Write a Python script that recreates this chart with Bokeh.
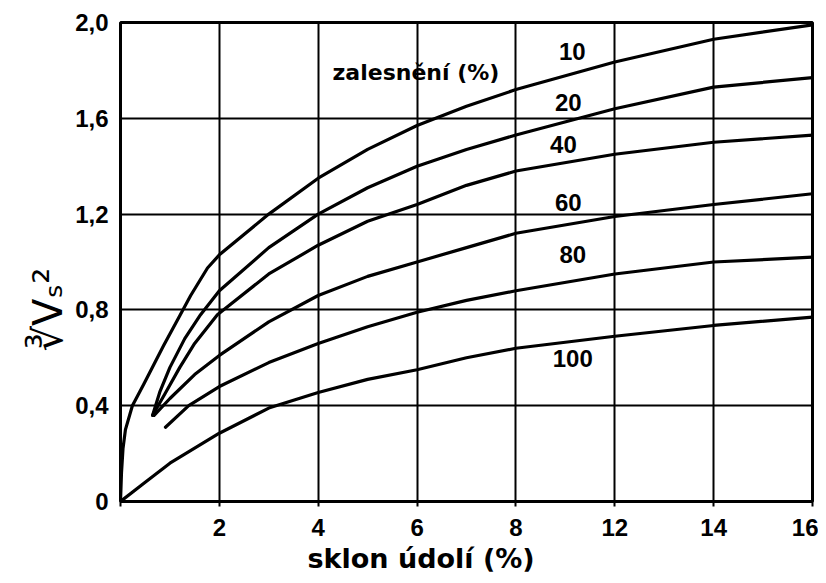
from bokeh.plotting import figure
from bokeh.models import Label, FixedTicker, Range1d, Title
from bokeh.core.properties import value
from bokeh.embed import file_html
from bokeh.resources import INLINE

# x axis: equally spaced gridlines labelled 0,2,4,6,8,12,14,16 (as printed)
x_tick_pos = [0, 2, 4, 6, 8, 10, 12, 14]
x_tick_labels = ["", "2", "4", "6", "8", "12", "14", "16"]
y_tick_pos = [0, 0.4, 0.8, 1.2, 1.6, 2.0]
y_tick_labels = ["0", "0,4", "0,8", "1,2", "1,6", "2,0"]

# curves (x in axis-position units), labelled by forest cover (%)
x_10 = [0, 0.02, 0.05, 0.1, 0.24, 0.47, 0.67, 0.87, 1.21, 1.42, 1.76, 2, 3, 4, 5, 6, 7, 8, 10, 12, 14]
y_10 = [0, 0.12, 0.22, 0.30, 0.40, 0.49, 0.57, 0.65, 0.78, 0.86, 0.975, 1.03, 1.20, 1.35, 1.47, 1.57, 1.65, 1.72, 1.835, 1.93, 1.99]
x_20 = [0.65, 0.8, 1.0, 1.3, 1.62, 2, 3, 4, 5, 6, 7, 8, 10, 12, 14]
y_20 = [0.36, 0.46, 0.56, 0.68, 0.78, 0.88, 1.06, 1.20, 1.31, 1.40, 1.47, 1.53, 1.64, 1.73, 1.77]
x_40 = [0.65, 0.9, 1.2, 1.5, 1.96, 3, 4, 5, 6, 7, 8, 10, 12, 14]
y_40 = [0.36, 0.45, 0.56, 0.66, 0.78, 0.95, 1.07, 1.17, 1.24, 1.32, 1.38, 1.45, 1.50, 1.53]
x_60 = [0.68, 1.0, 1.5, 2, 3, 4, 5, 6, 7, 8, 10, 12, 14]
y_60 = [0.36, 0.43, 0.53, 0.61, 0.75, 0.86, 0.94, 1.00, 1.06, 1.12, 1.19, 1.24, 1.285]
x_80 = [0.91, 1.38, 2, 3, 4, 5, 6, 7, 8, 10, 12, 14]
y_80 = [0.31, 0.40, 0.48, 0.58, 0.66, 0.73, 0.79, 0.84, 0.88, 0.95, 1.00, 1.02]
x_100 = [0, 0.5, 1, 2, 3, 4, 5, 6, 7, 8, 10, 12, 14]
y_100 = [0, 0.08, 0.16, 0.285, 0.39, 0.455, 0.51, 0.55, 0.60, 0.64, 0.69, 0.735, 0.77]

curve_names = ["10", "20", "40", "60", "80", "100"]
label_x = [9.14, 9.06, 8.96, 9.06, 9.15, 9.15]
label_y = [1.88, 1.665, 1.49, 1.25, 1.03, 0.595]

FONT = "Liberation Sans"

p = figure(width=818, height=575, output_backend="svg", toolbar_location=None,
           x_range=Range1d(0, 14), y_range=Range1d(0, 2.0),
           min_border_left=120, min_border_right=6, min_border_top=22, min_border_bottom=69)
p.background_fill_color = "white"
p.border_fill_color = "white"
p.outline_line_color = "black"
p.outline_line_width = 3

p.xaxis.ticker = FixedTicker(ticks=x_tick_pos)
p.yaxis.ticker = FixedTicker(ticks=y_tick_pos)
p.xaxis.major_label_overrides = {t: l for t, l in zip(x_tick_pos, x_tick_labels)}
p.yaxis.major_label_overrides = {t: l for t, l in zip(y_tick_pos, y_tick_labels)}
for ax in (p.xaxis, p.yaxis):
    ax.axis_line_color = None
    ax.minor_tick_line_color = None
    ax.major_tick_line_color = "black"
    ax.major_tick_line_width = 2
    ax.major_tick_in = 0
    ax.major_label_text_font = FONT
    ax.major_label_text_font_style = "bold"
    ax.major_label_text_font_size = "24px"
    ax.major_label_text_color = "black"
p.xaxis.major_tick_out = 5
p.xaxis.major_label_standoff = 12
p.yaxis.major_tick_out = 0
p.yaxis.major_label_standoff = 12

p.xgrid.ticker = FixedTicker(ticks=x_tick_pos)
p.ygrid.ticker = FixedTicker(ticks=y_tick_pos)
for g in (p.xgrid, p.ygrid):
    g.grid_line_color = "black"
    g.grid_line_width = 2
    g.grid_line_alpha = 1.0

series = [(x_10, y_10), (x_20, y_20), (x_40, y_40), (x_60, y_60), (x_80, y_80), (x_100, y_100)]
for xs, ys in series:
    p.line(xs, ys, line_color="black", line_width=3.2, line_join="round", line_cap="round")

p.text(x=label_x, y=label_y, text=curve_names, text_font=value(FONT),
       text_font_style="bold", text_font_size="24px", text_align="center",
       text_baseline="middle", text_color="black")

p.add_layout(Label(x=4.29, y=1.79, text="zalesnění (%)", text_font="DejaVu Sans",
                   text_font_style="bold", text_font_size="22px", text_align="left",
                   text_baseline="middle", text_color="black"))

xt = Title(text="sklon údolí (%)", align="left", offset=187, text_font="DejaVu Sans",
           text_font_style="bold", text_font_size="27px", text_color="black", standoff=4)
p.add_layout(xt, "below")

yt = Title(text="∛Vₛ²", align="left", offset=150, text_font="DejaVu Sans",
           text_font_style="normal", text_font_size="40px", text_color="black", standoff=4)
p.add_layout(yt, "left")

open("out.html", "w").write(file_html(p, INLINE))
